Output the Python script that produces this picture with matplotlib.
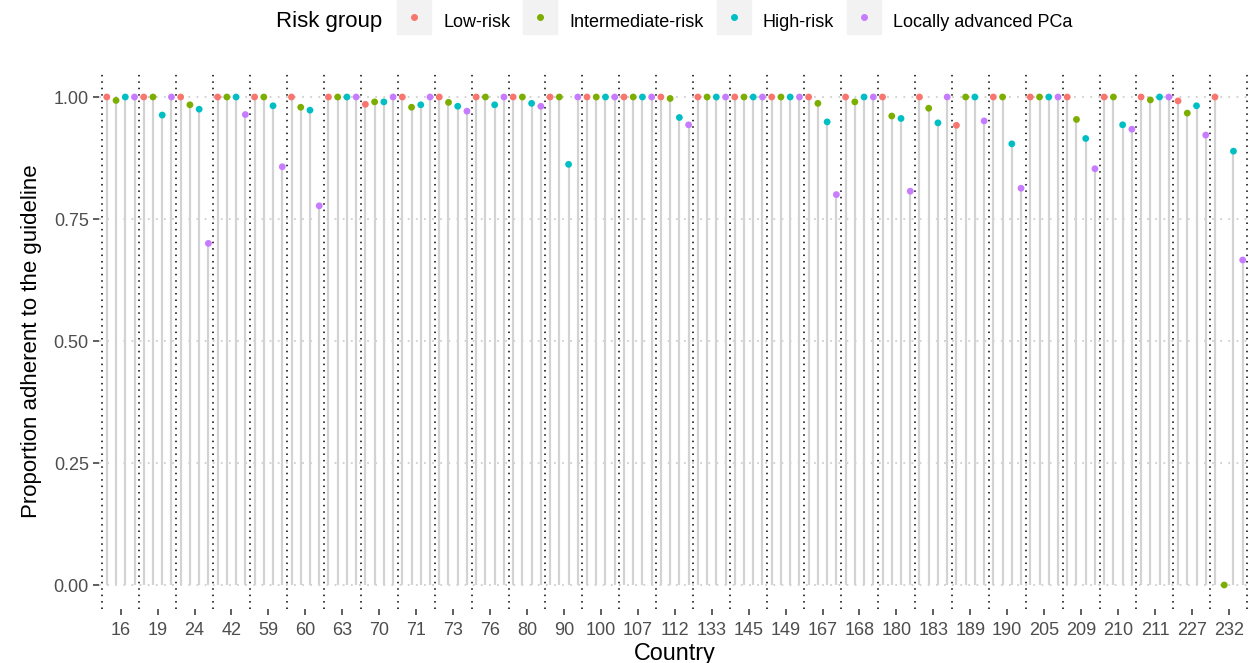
import numpy as np
import matplotlib
matplotlib.use("Agg")
import matplotlib.pyplot as plt
from matplotlib.lines import Line2D
from matplotlib.legend_handler import HandlerTuple

plt.rcParams["font.family"] = ["Liberation Sans", "DejaVu Sans"]

# data
countries = ["16", "19", "24", "42", "59", "60", "63", "70", "71", "73", "76",
             "80", "90", "100", "107", "112", "133", "145", "149", "167", "168",
             "180", "183", "189", "190", "205", "209", "210", "211", "227", "232"]
groups = ["Low-risk", "Intermediate-risk", "High-risk", "Locally advanced PCa"]
colors = ["#F8766D", "#7CAE00", "#00BFC4", "#C77CFF"]

low_risk = [1, 1, 1, 1, 1, 1, 1, 0.985, 1, 1, 1,
            1, 1, 1, 1, 1, 1, 1, 1, 1, 1,
            1, 1, 0.942, 1, 1, 1, 1, 1, 0.992, 1]
intermediate_risk = [0.993, 1, 0.984, 1, 1, 0.979, 1, 0.990, 0.979, 0.989, 1,
                     1, 1, 1, 1, 0.997, 1, 1, 1, 0.987, 0.990,
                     0.961, 0.977, 1, 1, 1, 0.954, 1, 0.994, 0.967, 0.0]
high_risk = [1, 0.963, 0.975, 1, 0.982, 0.973, 1, 0.990, 0.984, 0.981, 0.984,
             0.987, 0.862, 1, 1, 0.958, 1, 1, 1, 0.949, 1,
             0.956, 0.947, 1, 0.904, 1, 0.915, 0.943, 1, 0.982, 0.889]
locally_advanced = [1, 1, 0.700, 0.964, 0.857, 0.777, 1, 1, 1, 0.971, 1,
                    0.981, 1, 1, 1, 0.943, 1, 1, 1, 0.800, 1,
                    0.807, 1, 0.951, 0.813, 1, 0.853, 0.934, 1, 0.922, 0.666]
series = [low_risk, intermediate_risk, high_risk, locally_advanced]

W, H = 1251, 663
fig = plt.figure(figsize=(W / 100, H / 100), dpi=100)
ax = fig.add_axes([98.5 / W, 1 - 609.4 / H, (W - 98.5) / W, (609.4 - 72.6) / H])

x = np.arange(len(countries))
offsets = [-0.375, -0.125, 0.125, 0.375]

# horizontal grid
for yv in [0, 0.25, 0.5, 0.75, 1.0]:
    ax.axhline(yv, color="#CFCFCF", lw=1.3, ls=(0, (1, 3.5)), zorder=0)

for vals, col, off in zip(series, colors, offsets):
    xs = x + off
    ax.vlines(xs, 0, vals, color="#D3D3D3", lw=1.6, zorder=1)
    ax.scatter(xs, vals, s=24, color=col, edgecolor="none", zorder=4)

# country separators
for b in np.arange(len(countries) + 1) - 0.5:
    ax.axvline(b, color="black", lw=1.1, ls=(0, (1, 3.2)), zorder=3)

ax.set_xlim(-0.6, len(countries) - 1 + 0.6)
ax.set_ylim(-0.05, 1.05)
ax.set_xticks(x)
ax.set_xticklabels(countries)
ax.set_yticks([0, 0.25, 0.5, 0.75, 1.0])
ax.set_yticklabels(["0.00", "0.25", "0.50", "0.75", "1.00"])
for s in ax.spines.values():
    s.set_visible(False)
ax.tick_params(axis="both", colors="#333333", labelcolor="#4D4D4D",
               labelsize=13, length=4, width=1.1, pad=3)
ax.tick_params(axis="x", pad=5)
ax.set_xlabel("Country", fontsize=16.8, labelpad=2)
ax.set_ylabel("Proportion adherent to the guideline", fontsize=16, labelpad=8)

# legend on top: grey key square with a coloured dot
handles = [(Line2D([], [], marker="s", ls="", color="#F2F2F2", markersize=24.5),
            Line2D([], [], marker="o", ls="", color=c, markersize=4))
           for c in colors]
fig.text(276 / W, 1 - 21 / H, "Risk group", fontsize=16, ha="left", va="center")
fig.legend(handles, groups, ncol=4, loc="center left",
           bbox_to_anchor=(397 / W, 1 - 21 / H), frameon=False, fontsize=13,
           handler_map={tuple: HandlerTuple(ndivide=1, pad=0)},
           handlelength=1.88, handleheight=1.83, handletextpad=0.67,
           columnspacing=0.72, borderpad=0, borderaxespad=0)

fig.savefig("out.png", dpi=100)
